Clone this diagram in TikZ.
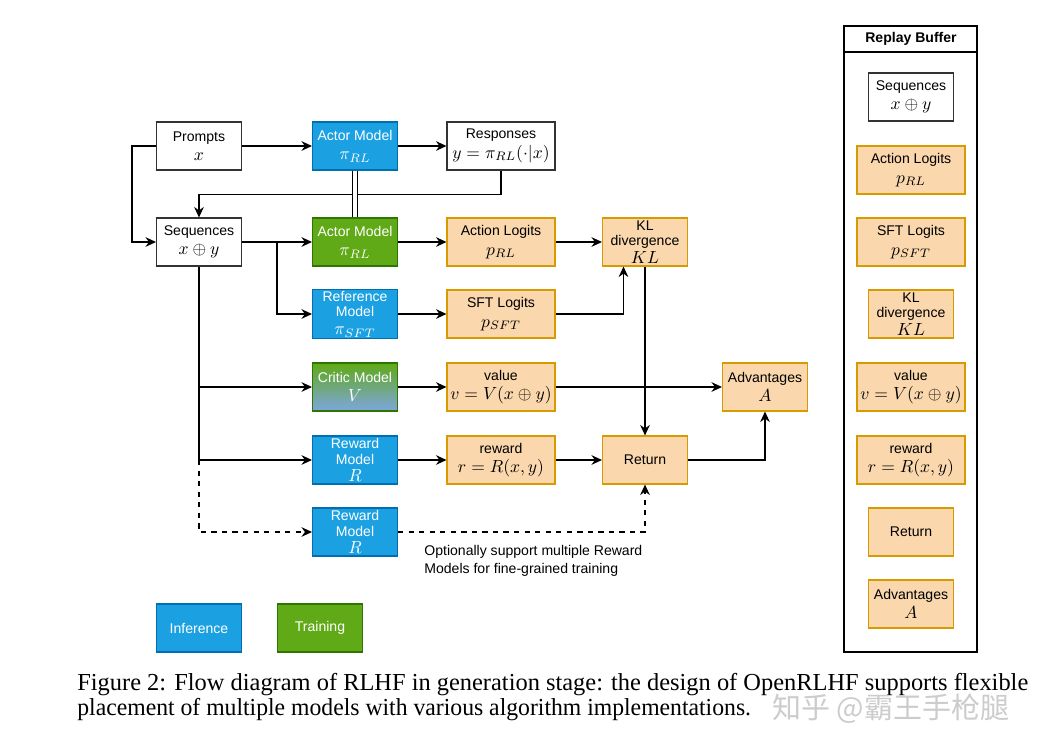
\documentclass[tikz,border=0pt]{standalone}
\usepackage{fontspec}
\setsansfont{Liberation Sans}
\newfontfamily\capfont{Liberation Serif}
\newfontfamily\cjk{Noto Sans CJK SC}
\usetikzlibrary{arrows.meta,calc}

\definecolor{infblue}{HTML}{1BA1E2}
\definecolor{infline}{HTML}{006EAF}
\definecolor{trngreen}{HTML}{60A917}
\definecolor{trnline}{HTML}{2D7600}
\definecolor{critblue}{HTML}{7EA6E0}
\definecolor{datfill}{HTML}{FAD7AC}
\definecolor{datline}{HTML}{D79B00}

% math in the boxes is set larger than the labels
\newcommand\mth[1]{{\fontsize{10}{11}\selectfont$#1$}}

\begin{document}
\begin{tikzpicture}[x=0.02cm,y=-0.02cm,font=\sffamily\fontsize{8}{11}\selectfont]
\tikzset{
% box styles: plain, inference, training and data
box/.style={draw=black!80,fill=white,line width=0.6pt,minimum width=1.7cm,minimum height=0.96cm,align=center,inner sep=1pt},
wide/.style={minimum width=2.16cm},
infer/.style={box,fill=infblue,draw=infline,text=white},
train/.style={box,fill=trngreen,draw=trnline,text=white},
data/.style={box,fill=datfill,draw=datline},
three/.style={font=\sffamily\fontsize{8}{9}\selectfont},
flow/.style={-{Stealth[length=6pt,width=5.5pt,inset=2pt]},line width=0.7pt}
}
\useasboundingbox[fill=white] (0,0) rectangle (1054,750);

% first row
\node(prompts)[box] at (199,146) {Prompts\\\mth{x}};
\node(actor)[infer] at (355,146) {Actor Model\\\mth{\pi_{RL}}};
\node(resp)[box,wide] at (501,146) {Responses\\\mth{y=\pi_{RL}(\cdot|x)}};

% models
\node(seq)[box] at (199,242) {Sequences\\\mth{x\oplus y}};
\node(actor2)[train] at (355,242) {Actor Model\\\mth{\pi_{RL}}};
\node(ref)[infer,three] at (355,314) {Reference\\Model\\[1pt]\mth{\pi_{SFT}}};
\node(critic)[box,draw=trnline,top color=trngreen,bottom color=critblue,text=white] at (355,387) {Critic Model\\\mth{V}};
\node(rm)[infer,three] at (355,460) {Reward\\Model\\[1pt]\mth{R}};
\node(rm2)[infer,three] at (355,532) {Reward\\Model\\[1pt]\mth{R}};

% outputs
\node(alog)[data,wide] at (501,242) {Action Logits\\\mth{p_{RL}}};
\node(slog)[data,wide] at (501,314) {SFT Logits\\\mth{p_{SFT}}};
\node(val)[data,wide] at (501,387) {value\\\mth{v=V(x\oplus y)}};
\node(rew)[data,wide] at (501,460) {reward\\\mth{r=R(x,y)}};
\node(kl)[data,three] at (645,242) {KL\\divergence\\[1pt]\mth{KL}};
\node(ret)[data] at (645,460) {Return};
\node(adv)[data] at (765,387) {Advantages\\\mth{A}};

\node(note)[anchor=north west,align=left,inner sep=0pt,font=\sffamily\fontsize{8}{10.2}\selectfont] at (424,545) {Optionally support multiple Reward\\Models for fine-grained training};

% legend
\node(inf)[infer] at (199,628) {Inference};
\node(trn)[train] at (320,628) {Training};

% connectors
\draw[flow] (prompts) -- (actor);
\draw[flow] (actor) -- (resp);
\draw[flow] (prompts.west) -- ++(-24,0) |- (seq.west);
\draw[flow] (resp.south) -- ++(0,24) -| (seq.north);
\draw[double,double distance=2.2pt,line width=0.6pt] (actor) -- (actor2);
\coordinate(split) at (277,242);
\draw[flow] (seq) -- (actor2);
\draw[flow] (split) |- (ref.west);
\draw[flow] (seq.south) |- (rm.west);
\draw[flow] (seq.south |- critic.west) -- (critic.west);
\draw[flow,dashed] (seq.south |- rm.west) |- (rm2.west);
\draw[flow] (actor2) -- (alog);
\draw[flow] (alog) -- (kl);
\draw[flow] (ref) -- (slog);
\draw[flow] (slog.east) -| ($(kl.south)!.5!(kl.south west)$);
\draw[flow] (kl) -- (ret);
\draw[flow] (critic) -- (val);
\draw[flow] (val) -- (adv);
\draw[flow] (rm) -- (rew);
\draw[flow] (rew) -- (ret);
\draw[flow] (ret.east) -| (adv.south);
\draw[flow,dashed] (rm2.east) -| (ret.south);

% replay buffer
\draw[line width=0.7pt] (844,26) rectangle (977,652);
\draw[line width=0.7pt] (844,52) -- (977,52);
\node(buf)[font=\sffamily\bfseries\fontsize{8}{9.6}\selectfont] at (911,39) {Replay Buffer};
\node(bseq)[box] at (911,97) {Sequences\\\mth{x\oplus y}};
\node(balog)[data,wide] at (911,170) {Action Logits\\\mth{p_{RL}}};
\node(bslog)[data,wide] at (911,242) {SFT Logits\\\mth{p_{SFT}}};
\node(bkl)[data,three] at (911,314) {KL\\divergence\\[1pt]\mth{KL}};
\node(bval)[data,wide] at (911,387) {value\\\mth{v=V(x\oplus y)}};
\node(brew)[data,wide] at (911,460) {reward\\\mth{r=R(x,y)}};
\node(bret)[data] at (911,532) {Return};
\node(badv)[data] at (911,604) {Advantages\\\mth{A}};

% caption, second line set a little narrower
\node(cap1)[anchor=north west,inner sep=0pt,font=\capfont\fontsize{13.9}{14.8}\selectfont] at (77,673) {Figure 2: Flow diagram of RLHF in generation stage: the design of OpenRLHF supports flexible};
\node(cap2)[anchor=north west,inner sep=0pt,font=\capfont\fontsize{13.9}{14.8}\selectfont,xscale=0.97,transform shape] at (77,698) {placement of multiple models with various algorithm implementations.};
\node(mark)[anchor=west,inner sep=0pt,text height=11pt,text depth=2pt,text=black!20,font=\cjk\fontsize{16.5}{18}\selectfont] at (772,711) {知乎 @霸王手枪腿};
\end{tikzpicture}
\end{document}
